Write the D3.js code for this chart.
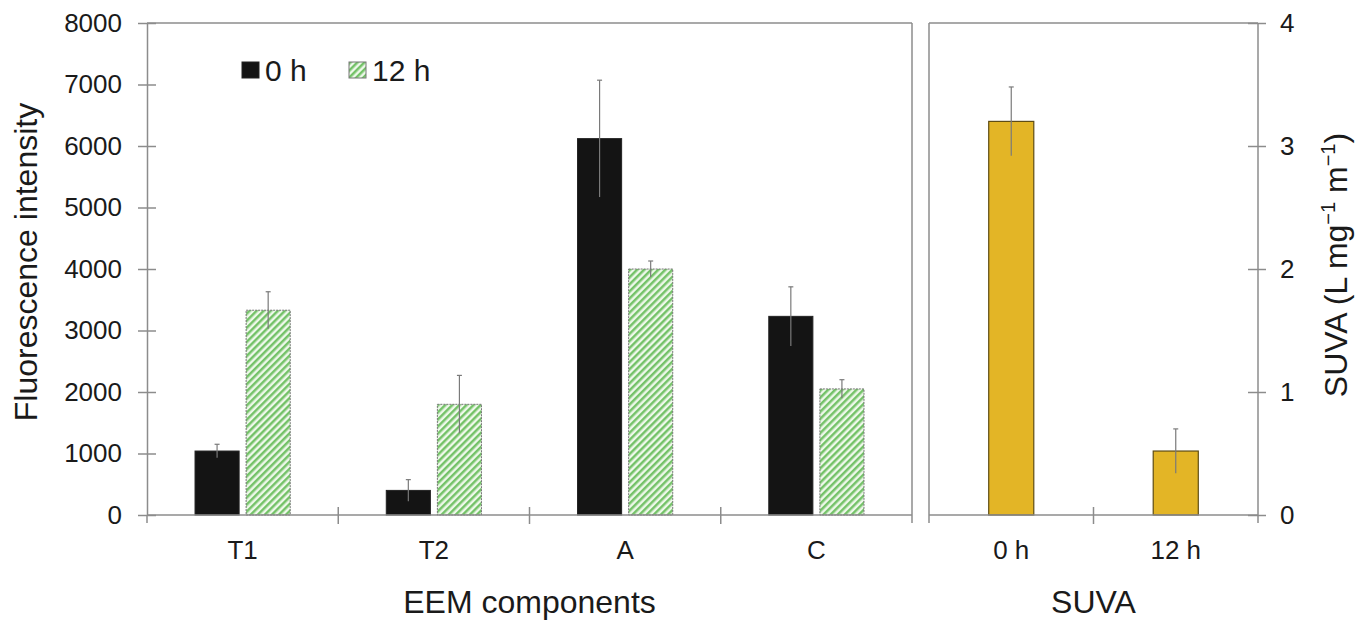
<!DOCTYPE html>
<html>
<head>
<meta charset="utf-8">
<script src="https://cdn.jsdelivr.net/npm/d3@7"></script>
<style>
  body { margin: 0; background: #fff; }
  svg text { font-family: "Liberation Sans", Arial, sans-serif; fill: #1a1a1a; }
</style>
</head>
<body>
<div id="chart"></div>
<script>

// Data
var categories = ["T1", "T2", "A", "C"];
var series = ["0 h", "12 h"];
var eem0h = [1040, 400, 6120, 3230];
var eem0hErr = [110, 175, 950, 480];
var eem12h = [3330, 1800, 4000, 2050];
var eem12hErr = [300, 470, 130, 150];

var suvaGroups = ["0 h", "12 h"];
var suvaValues = [3.2, 0.52];
var suvaErr = [0.28, 0.18];

var leftTicks = [0, 1000, 2000, 3000, 4000, 5000, 6000, 7000, 8000];
var rightTicks = [0, 1, 2, 3, 4];

// Colours
var axisColor = "#8c8c8c";
var errColor = "#7a7a7a";

var W = 1369, H = 625;
var plotTop = 23, plotBottom = 515;
var leftPanel = {x0: 147, x1: 912};
var rightPanel = {x0: 929, x1: 1258};

var svg = d3.select("#chart").append("svg")
    .attr("width", W)
    .attr("height", H);

// hatch pattern for 12 h bars
var defs = svg.append("defs");
var pat = defs.append("pattern")
    .attr("id", "hatch")
    .attr("patternUnits", "userSpaceOnUse")
    .attr("width", 5)
    .attr("height", 5)
    .attr("patternTransform", "rotate(45)");
pat.append("rect").attr("width", 5).attr("height", 5).attr("fill", "#eef8ea");
pat.append("rect").attr("width", 2.5).attr("height", 5).attr("fill", "#74c268");

// scales
var yL = d3.scaleLinear().domain([0, 8000]).range([plotBottom, plotTop]);
var yR = d3.scaleLinear().domain([0, 4]).range([plotBottom, plotTop]);

var x0 = d3.scaleBand().domain(categories).range([leftPanel.x0, leftPanel.x1]);
var x1 = d3.scaleBand().domain(series).range([0, x0.bandwidth()])
    .paddingInner(0.137).paddingOuter(0.94);
var xS = d3.scaleBand().domain(suvaGroups).range([rightPanel.x0, rightPanel.x1])
    .paddingInner(0.726).paddingOuter(0.363);

var color = d3.scaleOrdinal().domain(series).range(["#141414", "url(#hatch)"]);

// build rows for grouped bars
var rows = [];
categories.forEach(function(c, i){
    rows.push({cat: c, key: "0 h", value: eem0h[i], err: eem0hErr[i]});
    rows.push({cat: c, key: "12 h", value: eem12h[i], err: eem12hErr[i]});
});

// ---- frames ----
var frame = svg.append("g").attr("stroke", axisColor).attr("stroke-width", 1.5).attr("fill", "none");
frame.append("line").attr("x1", leftPanel.x0).attr("x2", leftPanel.x1).attr("y1", plotTop).attr("y2", plotTop);
frame.append("line").attr("x1", leftPanel.x1).attr("x2", leftPanel.x1).attr("y1", plotTop).attr("y2", plotBottom + 8);
frame.append("line").attr("x1", rightPanel.x0).attr("x2", rightPanel.x1).attr("y1", plotTop).attr("y2", plotTop);
frame.append("line").attr("x1", rightPanel.x0).attr("x2", rightPanel.x0).attr("y1", plotTop).attr("y2", plotBottom + 8);
frame.append("line").attr("x1", leftPanel.x0).attr("x2", leftPanel.x0).attr("y1", plotBottom).attr("y2", plotBottom + 8);

// ---- bars, left panel ----
var bars = svg.append("g");
bars.selectAll("rect").data(rows).enter().append("rect")
    .attr("x", function(d){ return x0(d.cat) + x1(d.key); })
    .attr("y", function(d){ return yL(d.value); })
    .attr("width", x1.bandwidth())
    .attr("height", function(d){ return yL(0) - yL(d.value); })
    .attr("fill", function(d){ return color(d.key); })
    .attr("stroke", function(d){ return d.key == "0 h" ? "#222" : "#777"; })
    .attr("stroke-width", 1)
    .attr("stroke-dasharray", function(d){ return d.key == "0 h" ? null : "2,1"; });

// error bars, left panel
var errs = svg.append("g").attr("stroke", errColor).attr("stroke-width", 1.2);
errs.selectAll("line.v").data(rows).enter().append("line")
    .attr("class", "v")
    .attr("x1", function(d){ return x0(d.cat) + x1(d.key) + x1.bandwidth() / 2; })
    .attr("x2", function(d){ return x0(d.cat) + x1(d.key) + x1.bandwidth() / 2; })
    .attr("y1", function(d){ return yL(d.value + d.err); })
    .attr("y2", function(d){ return yL(d.value - d.err); });
errs.selectAll("line.cap").data(rows).enter().append("line")
    .attr("class", "cap")
    .attr("x1", function(d){ return x0(d.cat) + x1(d.key) + x1.bandwidth() / 2 - 2.5; })
    .attr("x2", function(d){ return x0(d.cat) + x1(d.key) + x1.bandwidth() / 2 + 2.5; })
    .attr("y1", function(d){ return yL(d.value + d.err); })
    .attr("y2", function(d){ return yL(d.value + d.err); });

// ---- bars, right panel ----
var suvaRows = suvaGroups.map(function(g, i){ return {key: g, value: suvaValues[i], err: suvaErr[i]}; });

svg.append("g").selectAll("rect").data(suvaRows).enter().append("rect")
    .attr("x", function(d){ return xS(d.key); })
    .attr("y", function(d){ return yR(d.value); })
    .attr("width", xS.bandwidth())
    .attr("height", function(d){ return yR(0) - yR(d.value); })
    .attr("fill", "#e3b526")
    .attr("stroke", "#5e4c14")
    .attr("stroke-width", 1.2);

var errs2 = svg.append("g").attr("stroke", errColor).attr("stroke-width", 1.2);
errs2.selectAll("line.v").data(suvaRows).enter().append("line")
    .attr("class", "v")
    .attr("x1", function(d){ return xS(d.key) + xS.bandwidth() / 2; })
    .attr("x2", function(d){ return xS(d.key) + xS.bandwidth() / 2; })
    .attr("y1", function(d){ return yR(d.value + d.err); })
    .attr("y2", function(d){ return yR(d.value - d.err); });
errs2.selectAll("line.cap").data(suvaRows).enter().append("line")
    .attr("class", "cap")
    .attr("x1", function(d){ return xS(d.key) + xS.bandwidth() / 2 - 2.5; })
    .attr("x2", function(d){ return xS(d.key) + xS.bandwidth() / 2 + 2.5; })
    .attr("y1", function(d){ return yR(d.value + d.err); })
    .attr("y2", function(d){ return yR(d.value + d.err); });

// ---- axes ----
function styleAxis(g){
    g.select(".domain").attr("stroke", axisColor).attr("stroke-width", 1.5);
    g.selectAll(".tick line").attr("stroke", axisColor).attr("stroke-width", 1.5);
    g.selectAll(".tick text").attr("font-size", 26).attr("fill", "#1a1a1a");
}

var yAxisL = svg.append("g")
    .attr("transform", "translate(" + leftPanel.x0 + ",0)")
    .call(d3.axisLeft(yL).tickValues(leftTicks).tickFormat(d3.format("d")).tickSize(9).tickSizeOuter(0).tickPadding(16));
styleAxis(yAxisL);
yAxisL.selectAll(".tick line").attr("x1", 9);

var yAxisR = svg.append("g")
    .attr("transform", "translate(" + rightPanel.x1 + ",0)")
    .call(d3.axisRight(yR).tickValues(rightTicks).tickFormat(d3.format("d")).tickSize(8).tickSizeOuter(0).tickPadding(14));
styleAxis(yAxisR);
yAxisR.selectAll(".tick line").attr("x1", -10);
yAxisR.select(".domain").attr("d", "M0," + plotTop + "V" + (plotBottom + 8));

var xAxisL = svg.append("g")
    .attr("transform", "translate(0," + plotBottom + ")")
    .call(d3.axisBottom(x0).tickSize(0).tickPadding(25.5).tickSizeOuter(0));
styleAxis(xAxisL);
xAxisL.select(".domain").attr("d", "M" + leftPanel.x0 + ",0H" + leftPanel.x1);

var xAxisR = svg.append("g")
    .attr("transform", "translate(0," + plotBottom + ")")
    .call(d3.axisBottom(xS).tickSize(0).tickPadding(25.5).tickSizeOuter(0));
styleAxis(xAxisR);
xAxisR.select(".domain").attr("d", "M" + rightPanel.x0 + ",0H" + rightPanel.x1);

// category separator ticks
var sepL = categories.slice(1).map(function(c){ return x0(c); });
var sepR = suvaGroups.slice(1).map(function(c){ return xS(c) - xS.step() * xS.paddingInner() / 2; });
svg.append("g").selectAll("line").data(sepL.concat(sepR)).enter().append("line")
    .attr("x1", function(d){ return d; })
    .attr("x2", function(d){ return d; })
    .attr("y1", plotBottom - 8)
    .attr("y2", plotBottom + 9)
    .attr("stroke", axisColor)
    .attr("stroke-width", 1.5);

// ---- titles ----
svg.append("text")
    .attr("x", (leftPanel.x0 + leftPanel.x1) / 2)
    .attr("y", 613)
    .attr("text-anchor", "middle")
    .attr("font-size", 32)
    .text("EEM components");

svg.append("text")
    .attr("x", (rightPanel.x0 + rightPanel.x1) / 2)
    .attr("y", 613)
    .attr("text-anchor", "middle")
    .attr("font-size", 32)
    .text("SUVA");

svg.append("text")
    .attr("transform", "translate(37,262) rotate(-90)")
    .attr("text-anchor", "middle")
    .attr("font-size", 32)
    .text("Fluorescence intensity");

var rt = svg.append("text")
    .attr("transform", "translate(1347,265) rotate(-90)")
    .attr("text-anchor", "middle")
    .attr("font-size", 32);
rt.append("tspan").text("SUVA (L mg");
rt.append("tspan").attr("font-size", 20).attr("dy", -12).text("\u22121");
rt.append("tspan").attr("dy", 12).text(" m");
rt.append("tspan").attr("font-size", 20).attr("dy", -12).text("\u22121");
rt.append("tspan").attr("dy", 12).text(")");

// ---- legend ----
var legend = svg.append("g");
var legendX = [242, 349];
var lg = legend.selectAll("g").data(series).enter().append("g")
    .attr("transform", function(d, i){ return "translate(" + legendX[i] + ",62)"; });
lg.append("rect")
    .attr("width", 17)
    .attr("height", 16)
    .attr("fill", function(d){ return color(d); })
    .attr("stroke", function(d){ return d == "0 h" ? "#222" : "#777"; })
    .attr("stroke-width", 1);
lg.append("text")
    .attr("x", 23)
    .attr("y", 19)
    .attr("font-size", 30)
    .text(function(d){ return d; });

</script>
</body>
</html>
